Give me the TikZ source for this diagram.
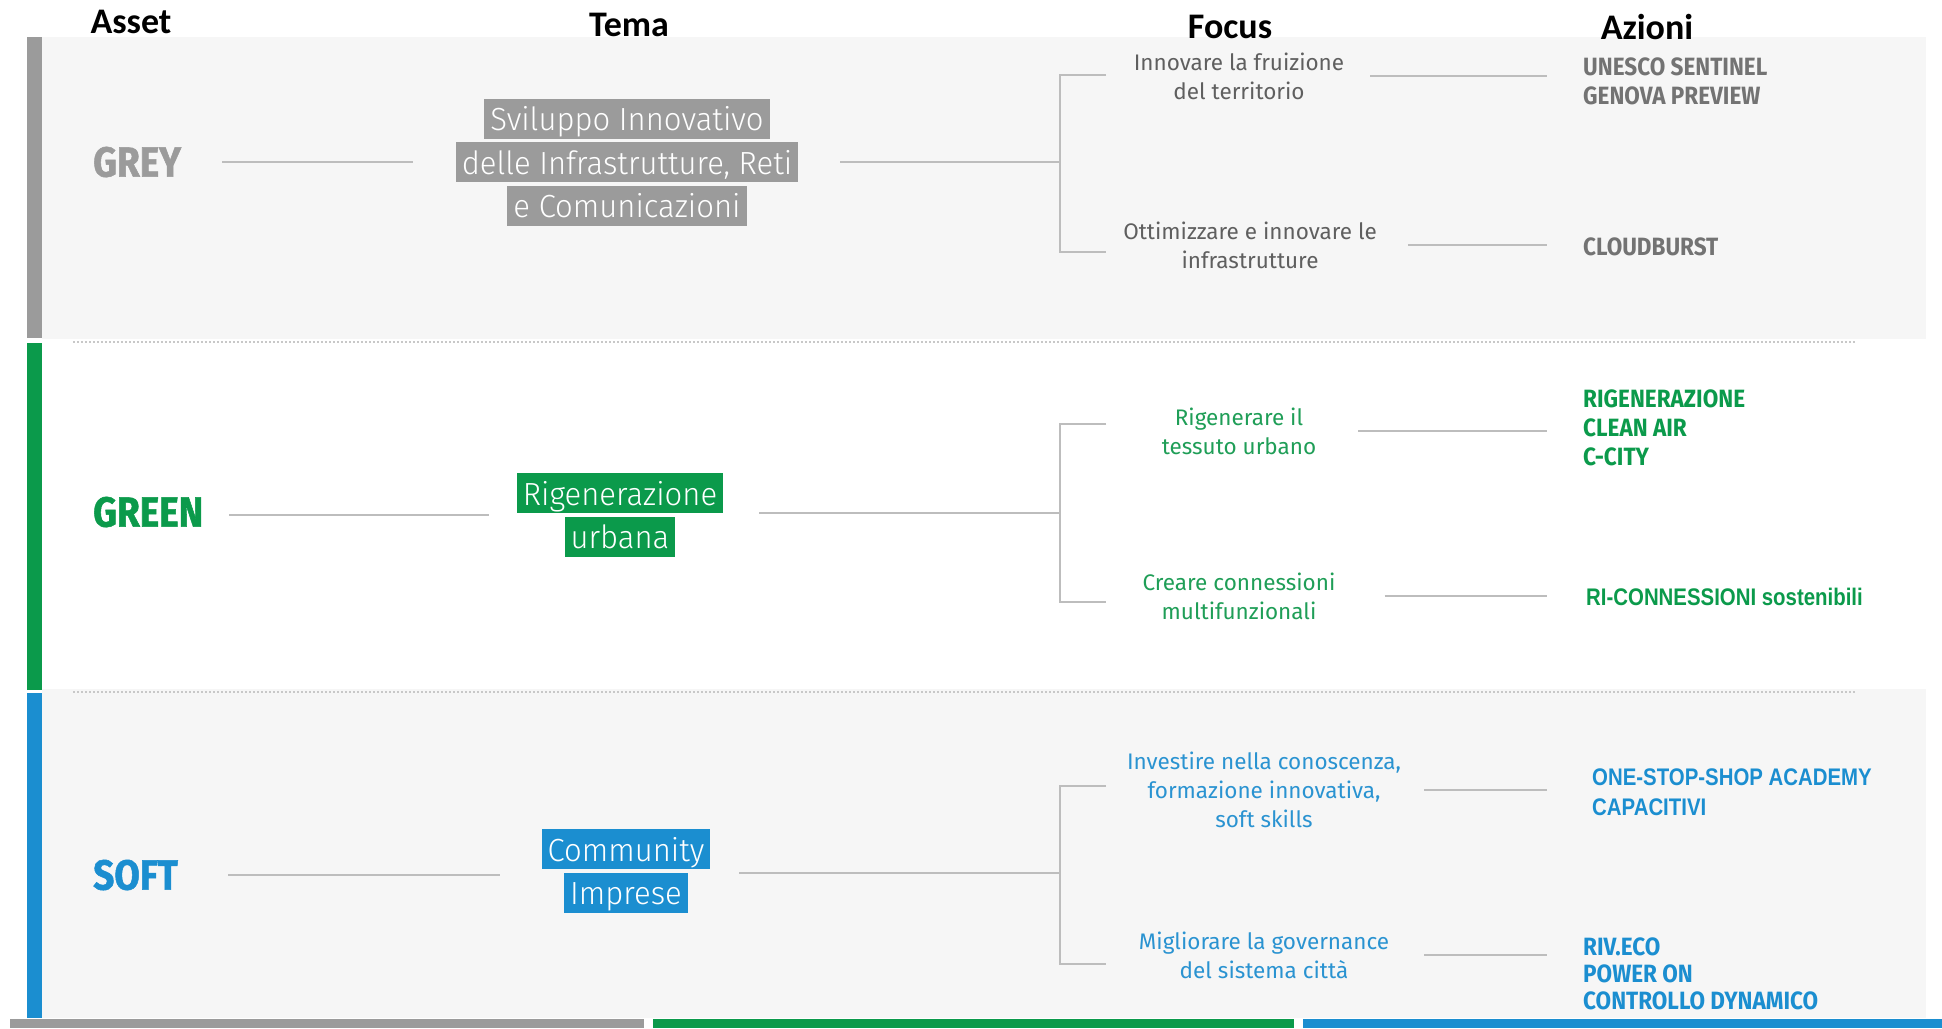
\documentclass[tikz,border=0pt]{standalone}
\usepackage{fontspec}
\usetikzlibrary{calc}
\setmainfont{Fira Sans}
\newfontfamily\headfont{Carlito}
\newfontfamily\assetfont[FakeStretch=0.88,FakeBold=1.2]{Fira Sans}
\newfontfamily\temafont[FakeStretch=0.97]{Fira Sans Light}
\newfontfamily\focusfont{Fira Sans}
\newfontfamily\actfont[FakeStretch=0.9]{Fira Sans}
\newfontfamily\arialfont[FakeStretch=0.85]{Liberation Sans}

\definecolor{greyc}{HTML}{9B9B9B}
\definecolor{greenc}{HTML}{0B9A4B}
\definecolor{bluec}{HTML}{1B8ED0}
\definecolor{panel}{HTML}{F6F6F6}
\definecolor{linkc}{HTML}{BDBDBD}
\definecolor{sepc}{HTML}{C8C8C8}
\definecolor{greytext}{HTML}{5F5F5F}
\definecolor{greyact}{HTML}{737373}
\definecolor{greenfocus}{HTML}{1F9E57}
\definecolor{bluefocus}{HTML}{2A93D1}

\setlength{\fboxsep}{0pt}
\newcommand{\hlt}[2]{\colorbox{#1}{\hspace{6pt}\rule[-8pt]{0pt}{40pt}#2\hspace{6pt}}}

\tikzset{
  link/.style={draw=linkc, line width=2pt},
  sep/.style={draw=sepc, line width=1.5pt, dash pattern=on 1.5pt off 2.5pt},
  head/.style={inner sep=0, font=\headfont\bfseries\fontsize{36}{40}\selectfont},
  asset/.style={anchor=west, inner sep=0, font=\assetfont\bfseries\fontsize{42}{46}\selectfont},
  tema/.style={inner sep=0, align=center, text=white, font=\temafont\fontsize{32}{43.5}\selectfont},
  focus/.style={inner sep=0, align=center, font=\focusfont\fontsize{22.5}{29}\selectfont},
  azione/.style={anchor=west, inner sep=0, align=left, font=\actfont\bfseries\fontsize{25}{29}\selectfont},
}

\begin{document}
\begin{tikzpicture}[x=1pt,y=-1pt]
  \useasboundingbox (0,0) rectangle (1942,1028);
  \fill[white] (0,0) rectangle (1942,1028);

  % panels and bars
  \fill[panel] (42,37) rectangle (1926,339);
  \fill[panel] (42,689) rectangle (1926,1018);
  \fill[greyc] (27,37) rectangle (42,338);
  \fill[greenc] (27,343) rectangle (42,690);
  \fill[bluec] (27,693) rectangle (42,1018);
  \fill[greyc] (10,1019) rectangle (644,1028);
  \fill[greenc] (653,1019) rectangle (1294,1028);
  \fill[bluec] (1303,1019) rectangle (1942,1028);
  \draw[sep] (73,342) -- (1856,342);
  \draw[sep] (73,692) -- (1856,692);

  % column titles
  \node[head] (hasset) at (131,22) {Asset};
  \node[head] (htema) at (629,25) {Tema};
  \node[head] (hfocus) at (1230,27) {Focus};
  \node[head] (hazioni) at (1647,27) {Azioni};

  % GREY
  \node[asset, text=greyc] (a1) at (93,162) {GREY};
  \node[tema] (t1) at (627,162) {\hlt{greyc}{Sviluppo Innovativo}\\\hlt{greyc}{delle Infrastrutture, Reti}\\\hlt{greyc}{e Comunicazioni}};
  \coordinate (b1) at (1060,162);
  \coordinate (s1a) at (1106,75);
  \coordinate (s1b) at (1106,252);
  \node[focus, text=greytext] (f1a) at (1239,76) {Innovare la fruizione\\del territorio};
  \node[focus, text=greytext] (f1b) at (1250,245) {Ottimizzare e innovare le\\infrastrutture};
  \node[azione, text=greyact] (z1a) at (1583,81) {UNESCO SENTINEL\\GENOVA PREVIEW};
  \node[azione, text=greyact] (z1b) at (1583,247) {CLOUDBURST};

  \draw[link, shorten <=41pt, shorten >=43pt] (a1.east) -- (t1.west);
  \draw[link, shorten <=42pt] (t1.east) -- (b1);
  \draw[link] (s1a) -| (b1) |- (s1b);
  \draw[link, shorten <=26pt, shorten >=36pt] (f1a.east) -- (f1a.east -| z1a.west);
  \draw[link, shorten <=31pt, shorten >=36pt] (f1b.east) -- (f1b.east -| z1b.west);

  % GREEN
  \node[asset, text=greenc] (a2) at (93,512) {GREEN};
  \node[tema] (t2) at (620,515) {\hlt{greenc}{Rigenerazione}\\\hlt{greenc}{urbana}};
  \coordinate (b2) at (1060,513);
  \coordinate (s2a) at (1106,424);
  \coordinate (s2b) at (1106,602);
  \node[focus, text=greenfocus] (f2a) at (1239,431) {Rigenerare il\\tessuto urbano};
  \node[focus, text=greenfocus] (f2b) at (1239,596) {Creare connessioni\\multifunzionali};
  \node[azione, text=greenc] (z2a) at (1583,428) {RIGENERAZIONE\\CLEAN AIR\\C-CITY};
  \node[azione, text=greenc, font=\arialfont\bfseries\fontsize{24}{29}\selectfont] (z2b) at (1586,597) {RI-CONNESSIONI sostenibili};

  \draw[link, shorten <=26pt, shorten >=28pt] (a2.east |- t2.west) -- (t2.west);
  \draw[link, shorten <=36pt] (t2.east |- b2) -- (b2);
  \draw[link] (s2a) -| (b2) |- (s2b);
  \draw[link, shorten <=42pt, shorten >=36pt] (f2a.east) -- (f2a.east -| z2a.west);
  \draw[link, shorten <=49pt, shorten >=39pt] (f2b.east) -- (f2b.east -| z2b.west);

  % SOFT
  \node[asset, text=bluec] (a3) at (93,875) {SOFT};
  \node[tema] (t3) at (626,871) {\hlt{bluec}{Community}\\\hlt{bluec}{Imprese}};
  \coordinate (b3) at (1060,873);
  \coordinate (s3a) at (1106,786);
  \coordinate (s3b) at (1106,964);
  \node[focus, text=bluefocus] (f3a) at (1264,790) {Investire nella conoscenza,\\formazione innovativa,\\soft skills};
  \node[focus, text=bluefocus] (f3b) at (1264,955) {Migliorare la governance\\del sistema città};
  \node[azione, text=bluec, font=\arialfont\bfseries\fontsize{24}{30}\selectfont] (z3a) at (1592,792) {ONE-STOP-SHOP ACADEMY\\CAPACITIVI};
  \node[azione, text=bluec, font=\actfont\bfseries\fontsize{25}{27}\selectfont] (z3b) at (1583,974) {RIV.ECO\\POWER ON\\CONTROLLO DYNAMICO};

  \draw[link, shorten <=50pt, shorten >=42pt] (a3.east) -- (a3.east -| t3.west);
  \draw[link, shorten <=29pt] (t3.east |- b3) -- (b3);
  \draw[link] (s3a) -| (b3) |- (s3b);
  \draw[link, shorten <=23pt, shorten >=45pt] (f3a.east) -- (f3a.east -| z3a.west);
  \draw[link, shorten <=35pt, shorten >=36pt] (f3b.east) -- (f3b.east -| z3b.west);
\end{tikzpicture}
\end{document}
